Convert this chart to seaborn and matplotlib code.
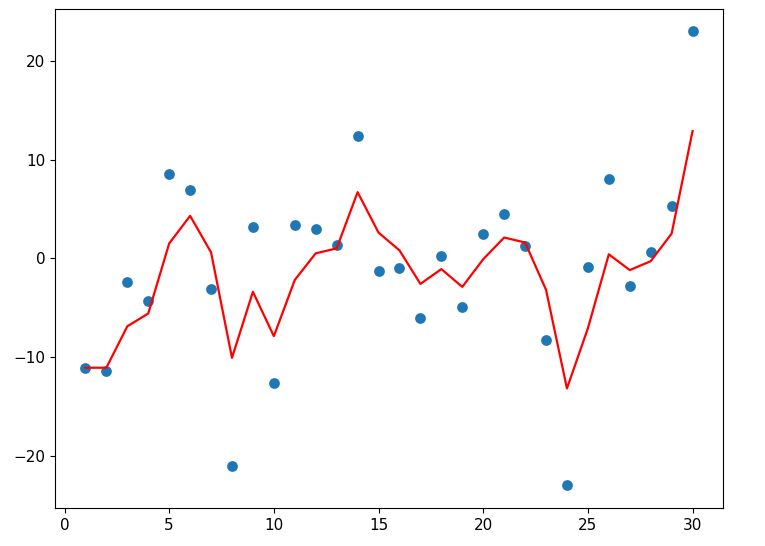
import matplotlib
matplotlib.use("Agg")
import matplotlib.pyplot as plt
import seaborn as sns

x = list(range(1, 31))
observed = [-11.1, -11.4, -2.4, -4.3, 8.5, 6.9, -3.1, -21.1, 3.2, -12.6,
            3.4, 3.0, 1.3, 12.4, -1.3, -1.0, -6.1, 0.2, -4.9, 2.5,
            4.5, 1.2, -8.3, -23.0, -0.9, 8.0, -2.8, 0.6, 5.3, 23.0]
smoothed = [-11.1, -11.1, -6.9, -5.6, 1.5, 4.3, 0.6, -10.1, -3.4, -7.9,
            -2.2, 0.5, 1.0, 6.7, 2.6, 0.8, -2.6, -1.1, -2.9, -0.1,
            2.1, 1.6, -3.2, -13.2, -7.1, 0.4, -1.2, -0.3, 2.5, 12.9]

fig = plt.figure(figsize=(7.65, 5.46), dpi=100)
ax = fig.add_axes([0.072, 0.070, 0.873, 0.914])
sns.scatterplot(x=x, y=observed, ax=ax, s=60, color="#1f77b4", linewidth=0)
sns.lineplot(x=x, y=smoothed, ax=ax, color="red", linewidth=1.6)
ax.set_xticks([0, 5, 10, 15, 20, 25, 30])
ax.set_yticks([-20, -10, 0, 10, 20])
ax.tick_params(labelsize=11)
fig.savefig("out.png", dpi=100)
